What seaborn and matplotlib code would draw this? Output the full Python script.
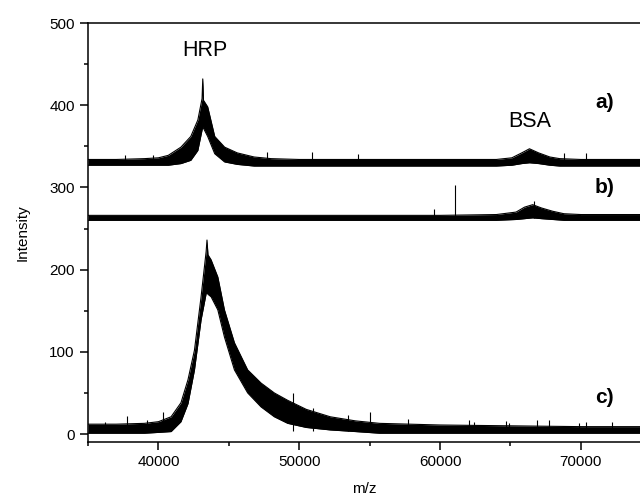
import matplotlib
matplotlib.use("Agg")
import matplotlib.pyplot as plt
import seaborn as sns
from matplotlib.ticker import MultipleLocator

# envelopes of the noisy spectra (m/z, upper and lower edge of the black band)
a_mz = [35000, 37000, 39000, 40000, 40700, 41600, 42300, 42800, 43100, 43150, 43200,
        43500, 44000, 44700, 45600, 46800, 48000, 50000, 55000, 60000, 64000, 65100,
        65800, 66350, 67000, 67800, 68500, 70000, 74200]
a_upper = [334, 334, 335, 336, 339, 349, 362, 382, 408, 432, 406,
           398, 362, 349, 342, 337, 335, 334, 334, 334, 334, 336,
           342, 347, 342, 337, 335, 334, 334]
a_lower = [327, 327, 327, 327, 327, 329, 333, 345, 370, 374, 372,
           362, 341, 331, 328, 326, 326, 326, 326, 326, 326, 327,
           329, 330, 329, 327, 326, 326, 326]

b_mz = [35000, 50000, 60000, 64000, 65400, 66000, 66580, 67200, 68000, 68800, 70000, 74200]
b_upper = [266, 266, 266, 267, 270, 276, 279, 275, 271, 268, 267, 267]
b_lower = [260, 260, 260, 260, 261, 262, 263, 262, 261, 260, 260, 260]

c_mz = [35000, 37000, 39000, 40000, 40900, 41600, 42100, 42560, 43030, 43390, 43450,
        43520, 43740, 44220, 44690, 45400, 46340, 47290, 48230, 49180, 50500, 52200,
        54000, 55700, 60000, 65000, 70000, 74200]
c_upper = [12, 12, 13, 15, 21, 38, 66, 102, 167, 222, 236,
           218, 212, 191, 151, 111, 78, 62, 50, 41, 30, 21,
           16, 13, 11, 10, 9, 9]
c_lower = [1, 1, 1, 2, 3, 15, 37, 78, 139, 171, 172,
           170, 167, 151, 118, 78, 50, 33, 21, 13, 8, 5,
           3, 1, 1, 1, 1, 1]

# single spikes sticking out of the band
a_base = 330
a_spike_mz = [37620, 39600, 47690, 50900, 54150, 68800, 70380]
a_spike_top = [339, 340, 343, 343, 341, 342, 342]
b_base = 263
b_spike_mz = [59600, 61040, 66700]
b_spike_top = [274, 303, 283]
c_base = 4
c_spike_mz = [36200, 37740, 39160, 40320, 49540, 50950, 53430, 55000, 57700,
              62080, 62440, 64700, 64920, 66900, 67750, 69870, 70380, 72230]
c_spike_top = [15, 22, 17, 27, 50, 32, 23, 27, 18,
               17, 15, 16, 14, 17, 17, 14, 15, 15]

sns.set_style("ticks")
plt.rcParams["font.family"] = ["Liberation Sans", "DejaVu Sans"]
plt.rcParams["text.color"] = "black"
plt.rcParams["axes.labelcolor"] = "black"
plt.rcParams["xtick.color"] = "black"
plt.rcParams["ytick.color"] = "black"

fig = plt.figure(figsize=(6.4, 4.99), dpi=100)
ax = fig.add_axes([0.1375, 0.1142, 0.8625, 0.8397])

traces = [
    (a_mz, a_upper, a_lower, a_base, a_spike_mz, a_spike_top),
    (b_mz, b_upper, b_lower, b_base, b_spike_mz, b_spike_top),
    (c_mz, c_upper, c_lower, c_base, c_spike_mz, c_spike_top),
]
for mz, up, lo, base, smz, stop in traces:
    ax.fill_between(mz, lo, up, color="black", linewidth=0)
    sns.lineplot(x=mz, y=up, color="black", linewidth=0.8, ax=ax)
    sns.lineplot(x=mz, y=lo, color="black", linewidth=0.8, ax=ax)
    ax.vlines(smz, base, stop, color="black", linewidth=0.8)

ax.set_xlim(35000, 74200)
ax.set_ylim(-9.7, 500)
ax.set_xticks([40000, 50000, 60000, 70000])
ax.set_yticks([0, 100, 200, 300, 400, 500])
ax.xaxis.set_minor_locator(MultipleLocator(5000))
ax.yaxis.set_minor_locator(MultipleLocator(50))
ax.tick_params(which="major", direction="out", length=6, width=1.1, labelsize=11,
               color="black", labelcolor="black")
ax.tick_params(which="minor", direction="out", length=3, width=1.1, color="black")

for side in ["left", "bottom", "top"]:
    ax.spines[side].set_linewidth(1.1)
    ax.spines[side].set_color("black")
ax.spines["right"].set_visible(False)

ax.set_xlabel("m/z", fontsize=11, labelpad=9)
ax.set_ylabel("Intensity", fontsize=11, labelpad=14)

ax.text(43300, 467, "HRP", fontsize=15.5, ha="center", va="center")
ax.text(66400, 380, "BSA", fontsize=15.5, ha="center", va="center")
ax.text(71700, 403, "a)", fontsize=15, fontweight="bold", ha="center", va="center")
ax.text(71700, 300, "b)", fontsize=15, fontweight="bold", ha="center", va="center")
ax.text(71700, 45, "c)", fontsize=15, fontweight="bold", ha="center", va="center")

fig.savefig("out.png", dpi=100)
